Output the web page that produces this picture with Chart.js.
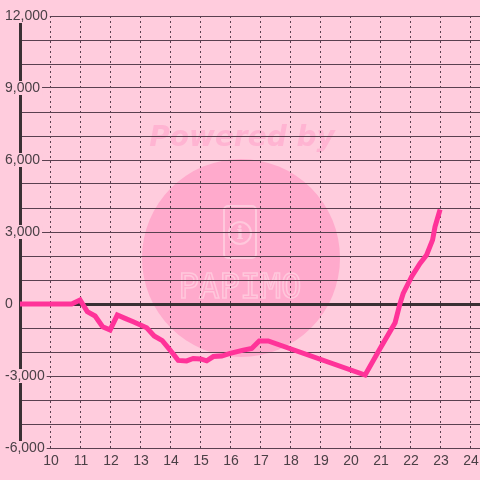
<!DOCTYPE html>
<html>
<head>
<meta charset="utf-8">
<script src="https://cdn.jsdelivr.net/npm/chart.js@4/dist/chart.umd.min.js"></script>
<style>
  body { margin: 0; background: #ffccdd; }
  #wrap { width: 480px; height: 480px; }
</style>
</head>
<body>
<div id="wrap"><canvas id="myChart"></canvas></div>
<script>
  // values
  const xValues = [8.967, 10.69, 10.97, 11.21, 11.47, 11.72, 11.97, 12.21, 12.47, 12.74,
    13.19, 13.44, 13.71, 13.97, 14.24, 14.52, 14.74, 14.99, 15.19, 15.41, 15.69, 15.97,
    16.41, 16.69, 16.94, 17.24, 20.47, 20.97, 21.47, 21.63, 21.74, 22.02, 22.3, 22.52,
    22.72, 22.8, 22.97]
  const yValues = [0, 0, 170, -320, -500, -950, -1080, -460, -600, -740,
    -990, -1330, -1530, -1920, -2350, -2370, -2270, -2290, -2370, -2190, -2170, -2060,
    -1920, -1850, -1540, -1540, -2960, -1850, -780, 0, 440, 1140, 1690, 2040,
    2670, 3220, 3940]
  const xTicks = [10, 11, 12, 13, 14, 15, 16, 17, 18, 19, 20, 21, 22, 23, 24]

  const bg = '#ffccdd'
  const textColor = '#4a4046'

  // background + "Powered by" watermark, drawn under the grid
  const watermark = {
    id: 'watermark',
    beforeDraw (chart) {
      const c = chart.ctx
      c.save()
      c.fillStyle = bg
      c.fillRect(0, 0, chart.width, chart.height)
      c.fillStyle = '#ffaacc'
      c.beginPath()
      c.arc(241, 258, 99, 0, Math.PI * 2)
      c.fill()
      c.fillStyle = '#ffb4d2'
      c.font = 'bold oblique 28px "DejaVu Sans"'
      c.textAlign = 'center'
      c.textBaseline = 'alphabetic'
      c.fillText('Powered by', 242, 146)
      // logo
      c.strokeStyle = '#ffc8dc'
      c.lineWidth = 2
      c.beginPath()
      c.roundRect(224, 206, 32, 52, 4)
      c.stroke()
      c.beginPath()
      c.arc(240, 233, 11, 0, Math.PI * 2)
      c.stroke()
      c.font = 'bold 18px "DejaVu Serif"'
      c.fillStyle = '#ffc8dc'
      c.textBaseline = 'middle'
      c.fillText('i', 240, 234)
      c.font = '34px "DejaVu Sans Mono"'
      c.lineWidth = 1.5
      c.strokeText('PAPIMO', 240, 289)
      c.restore()
    }
  }

  new Chart(document.getElementById('myChart'), {
    type: 'line',
    data: {
      datasets: [{
        data: xValues.map((x, i) => ({ x, y: yValues[i] })),
        borderColor: '#ff3399',
        borderWidth: 5,
        pointRadius: 0,
        tension: 0,
        fill: false
      }]
    },
    plugins: [watermark],
    options: {
      animation: false,
      responsive: true,
      maintainAspectRatio: false,
      layout: { padding: { left: 5, top: 16, right: 0, bottom: 12 } },
      plugins: {
        legend: { display: false },
        tooltip: { enabled: false }
      },
      scales: {
        x: {
          type: 'linear',
          min: 8.967,
          max: 24.3,
          afterBuildTicks: (scale) => { scale.ticks = xTicks.map(v => ({ value: v })) },
          afterFit: (scale) => {
            scale.height = 20
            scale.paddingLeft = 0
            scale.paddingRight = 0
            scale.paddingTop = 0
            scale.paddingBottom = 0
          },
          grid: { color: '#5a4050', lineWidth: 1, drawTicks: false },
          border: { display: false, dash: [2, 3] },
          ticks: {
            padding: 6,
            autoSkip: false,
            maxRotation: 0,
            color: textColor,
            font: { family: '"Liberation Sans"', size: 14, lineHeight: 1 }
          }
        },
        y: {
          min: -6000,
          max: 12000,
          afterFit: (scale) => {
            scale.width = 15
            scale.paddingTop = 0
            scale.paddingBottom = 0
          },
          grid: {
            drawTicks: false,
            color: (ctx) => ctx.tick && ctx.tick.value === 0 ? '#3a3034' : '#5a4050',
            lineWidth: (ctx) => ctx.tick && ctx.tick.value === 0 ? 3 : 1
          },
          border: { display: true, width: 3, color: '#3a3034' },
          ticks: {
            stepSize: 1000,
            autoSkip: false,
            mirror: true,
            crossAlign: 'near',
            padding: -15,
            color: textColor,
            font: { family: '"Liberation Sans"', size: 14, lineHeight: 1 },
            showLabelBackdrop: true,
            backdropColor: bg,
            backdropPadding: { left: 2, right: 2, top: 0, bottom: 0 },
            callback: (v) => v % 3000 === 0 ? v.toLocaleString('en-US') : ''
          }
        }
      }
    }
  })
</script>
</body>
</html>
